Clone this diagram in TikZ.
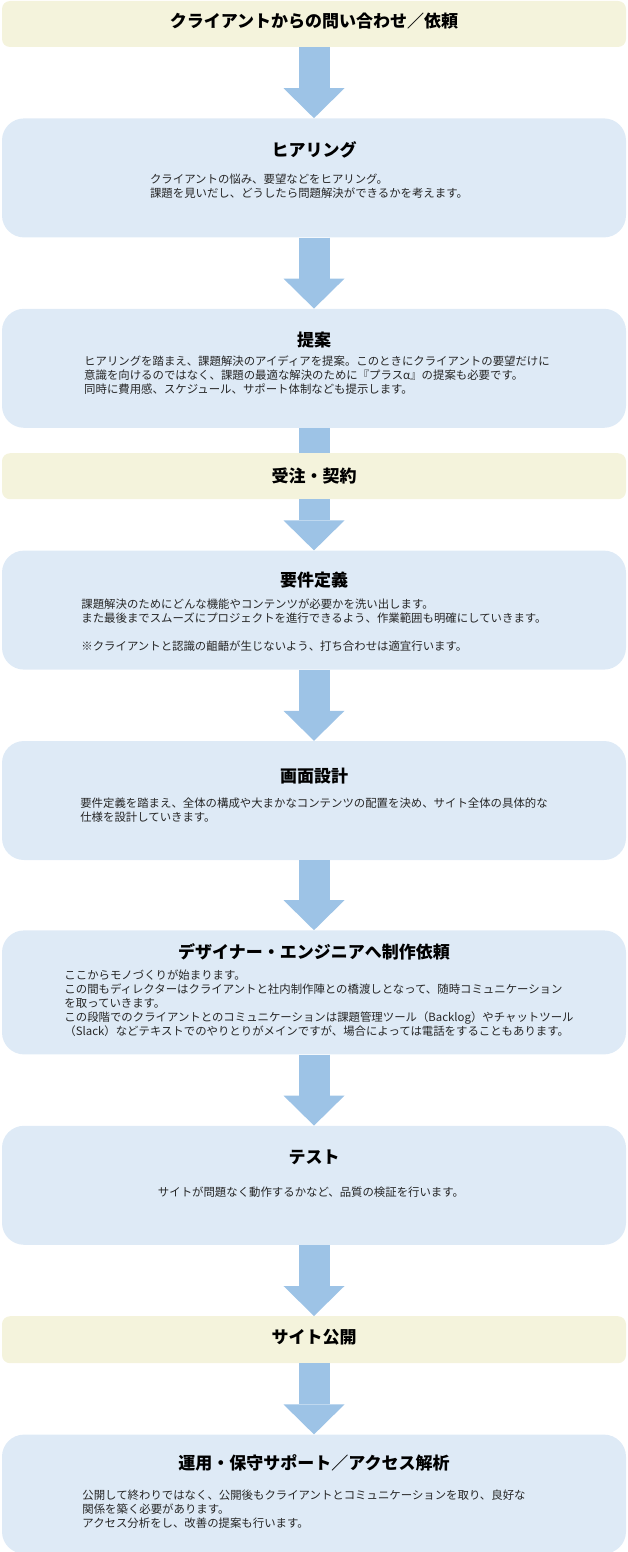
\documentclass[tikz,border=0pt]{standalone}
\usepackage{fontspec}
\setmainfont{Noto Sans CJK JP}
\usetikzlibrary{arrows.meta, positioning}
\definecolor{stepblue}{HTML}{DEEAF6}
\definecolor{stepyellow}{HTML}{F4F3DC}
\definecolor{flowblue}{HTML}{9DC3E6}

\begin{document}
\begin{tikzpicture}[
    x=1pt, y=1pt,
    node distance=71pt,
    stepbox/.style={fill=stepblue, rounded corners=22pt, minimum width=624pt, minimum height=119pt, inner sep=0pt},
    gatebox/.style={fill=stepyellow, rounded corners=8pt, minimum width=624pt, minimum height=46pt, inner sep=0pt},
    ttl/.style={font=\bfseries\fontsize{17}{20}\selectfont, inner sep=0pt},
    body/.style={font=\fontsize{11.4}{14}\selectfont, align=left, inner sep=0pt, text=black!85},
    flow/.style={draw=flowblue, line width=31pt, -{Triangle[length=30pt, width=61pt, line width=0pt]}},
    shaft/.style={draw=flowblue, line width=31pt}
]
\useasboundingbox (0,0) rectangle (628,-1552);

% Boxes
\node[gatebox] (inquiry) at (314,-24) {};
\node[stepbox, below=of inquiry] (hearing) {};
\node[stepbox, below=of hearing] (proposal) {};
\node[gatebox, below=25pt of proposal] (contract) {};
\node[stepbox, below=51pt of contract] (reqdef) {};
\node[stepbox, below=of reqdef] (screen) {};
\node[stepbox, below=70pt of screen, minimum height=124pt] (request) {};
\node[stepbox, below=of request] (test) {};
\node[gatebox, below=of test, minimum height=47pt] (release) {};
\node[stepbox, below=of release] (ops) {};

% Titles
\node[ttl] (inquiryT) at ([yshift=3pt]inquiry.center) {クライアントからの問い合わせ／依頼};
\node[ttl] (hearingT) at ([yshift=-32pt]hearing.north) {ヒアリング};
\node[ttl] (proposalT) at ([yshift=-31pt]proposal.north) {提案};
\node[ttl] (contractT) at (contract.center) {受注・契約};
\node[ttl] (reqdefT) at ([yshift=-29.5pt]reqdef.north) {要件定義};
\node[ttl] (screenT) at ([yshift=-35pt]screen.north) {画面設計};
\node[ttl] (requestT) at ([yshift=-22pt]request.north) {デザイナー・エンジニアへ制作依頼};
\node[ttl] (testT) at ([yshift=-32pt]test.north) {テスト};
\node[ttl] (releaseT) at ([yshift=2pt]release.center) {サイト公開};
\node[ttl] (opsT) at ([yshift=-29pt]ops.north) {運用・保守サポート／アクセス解析};

% Descriptions
\node[body, below=15.3pt of hearingT, xshift=-5pt] (hearingB)
{クライアントの悩み、要望などをヒアリング。\\
課題を見いだし、どうしたら問題解決ができるかを考えます。};
\node[body, below=7.8pt of proposalT, xshift=3pt] (proposalB)
{ヒアリングを踏まえ、課題解決のアイディアを提案。このときにクライアントの要望だけに\\
意識を向けるのではなく、課題の最適な解決のために『プラスα』の提案も必要です。\\
同時に費用感、スケジュール、サポート体制なども提示します。};
\node[body, below=10.8pt of reqdefT] (reqdefB)
{課題解決のためにどんな機能やコンテンツが必要かを洗い出します。\\
また最後までスムーズにプロジェクトを進行できるよう、作業範囲も明確にしていきます。\\[14pt]
※クライアントと認識の齟齬が生じないよう、打ち合わせは適宜行います。};
\node[body, below=13.8pt of screenT] (screenB)
{要件定義を踏まえ、全体の構成や大まかなコンテンツの配置を決め、サイト全体の具体的な\\
仕様を設計していきます。};
\node[body, below=8.8pt of requestT, xshift=5pt] (requestB)
{ここからモノづくりが始まります。\\
この間もディレクターはクライアントと社内制作陣との橋渡しとなって、随時コミュニケーション\\
を取っていきます。\\
この段階でのクライアントとのコミュニケーションは課題管理ツール（Backlog）やチャットツール\\
（Slack）などテキストでのやりとりがメインですが、場合によっては電話をすることもあります。};
\node[body, below=21.3pt of testT, xshift=-3pt] (testB)
{サイトが問題なく動作するかなど、品質の検証を行います。};
\node[body, below=17.8pt of opsT, xshift=-10pt] (opsB)
{公開して終わりではなく、公開後もクライアントとコミュニケーションを取り、良好な\\
関係を築く必要があります。\\
アクセス分析をし、改善の提案も行います。};

% Arrows
\draw[flow] (inquiry) -- (hearing);
\draw[flow] (hearing) -- (proposal);
\draw[shaft] (proposal) -- (contract);
\draw[flow] (contract) -- (reqdef);
\draw[flow] (reqdef) -- (screen);
\draw[flow] (screen) -- (request);
\draw[flow] (request) -- (test);
\draw[flow] (test) -- (release);
\draw[flow] (release) -- (ops);

\end{tikzpicture}
\end{document}
